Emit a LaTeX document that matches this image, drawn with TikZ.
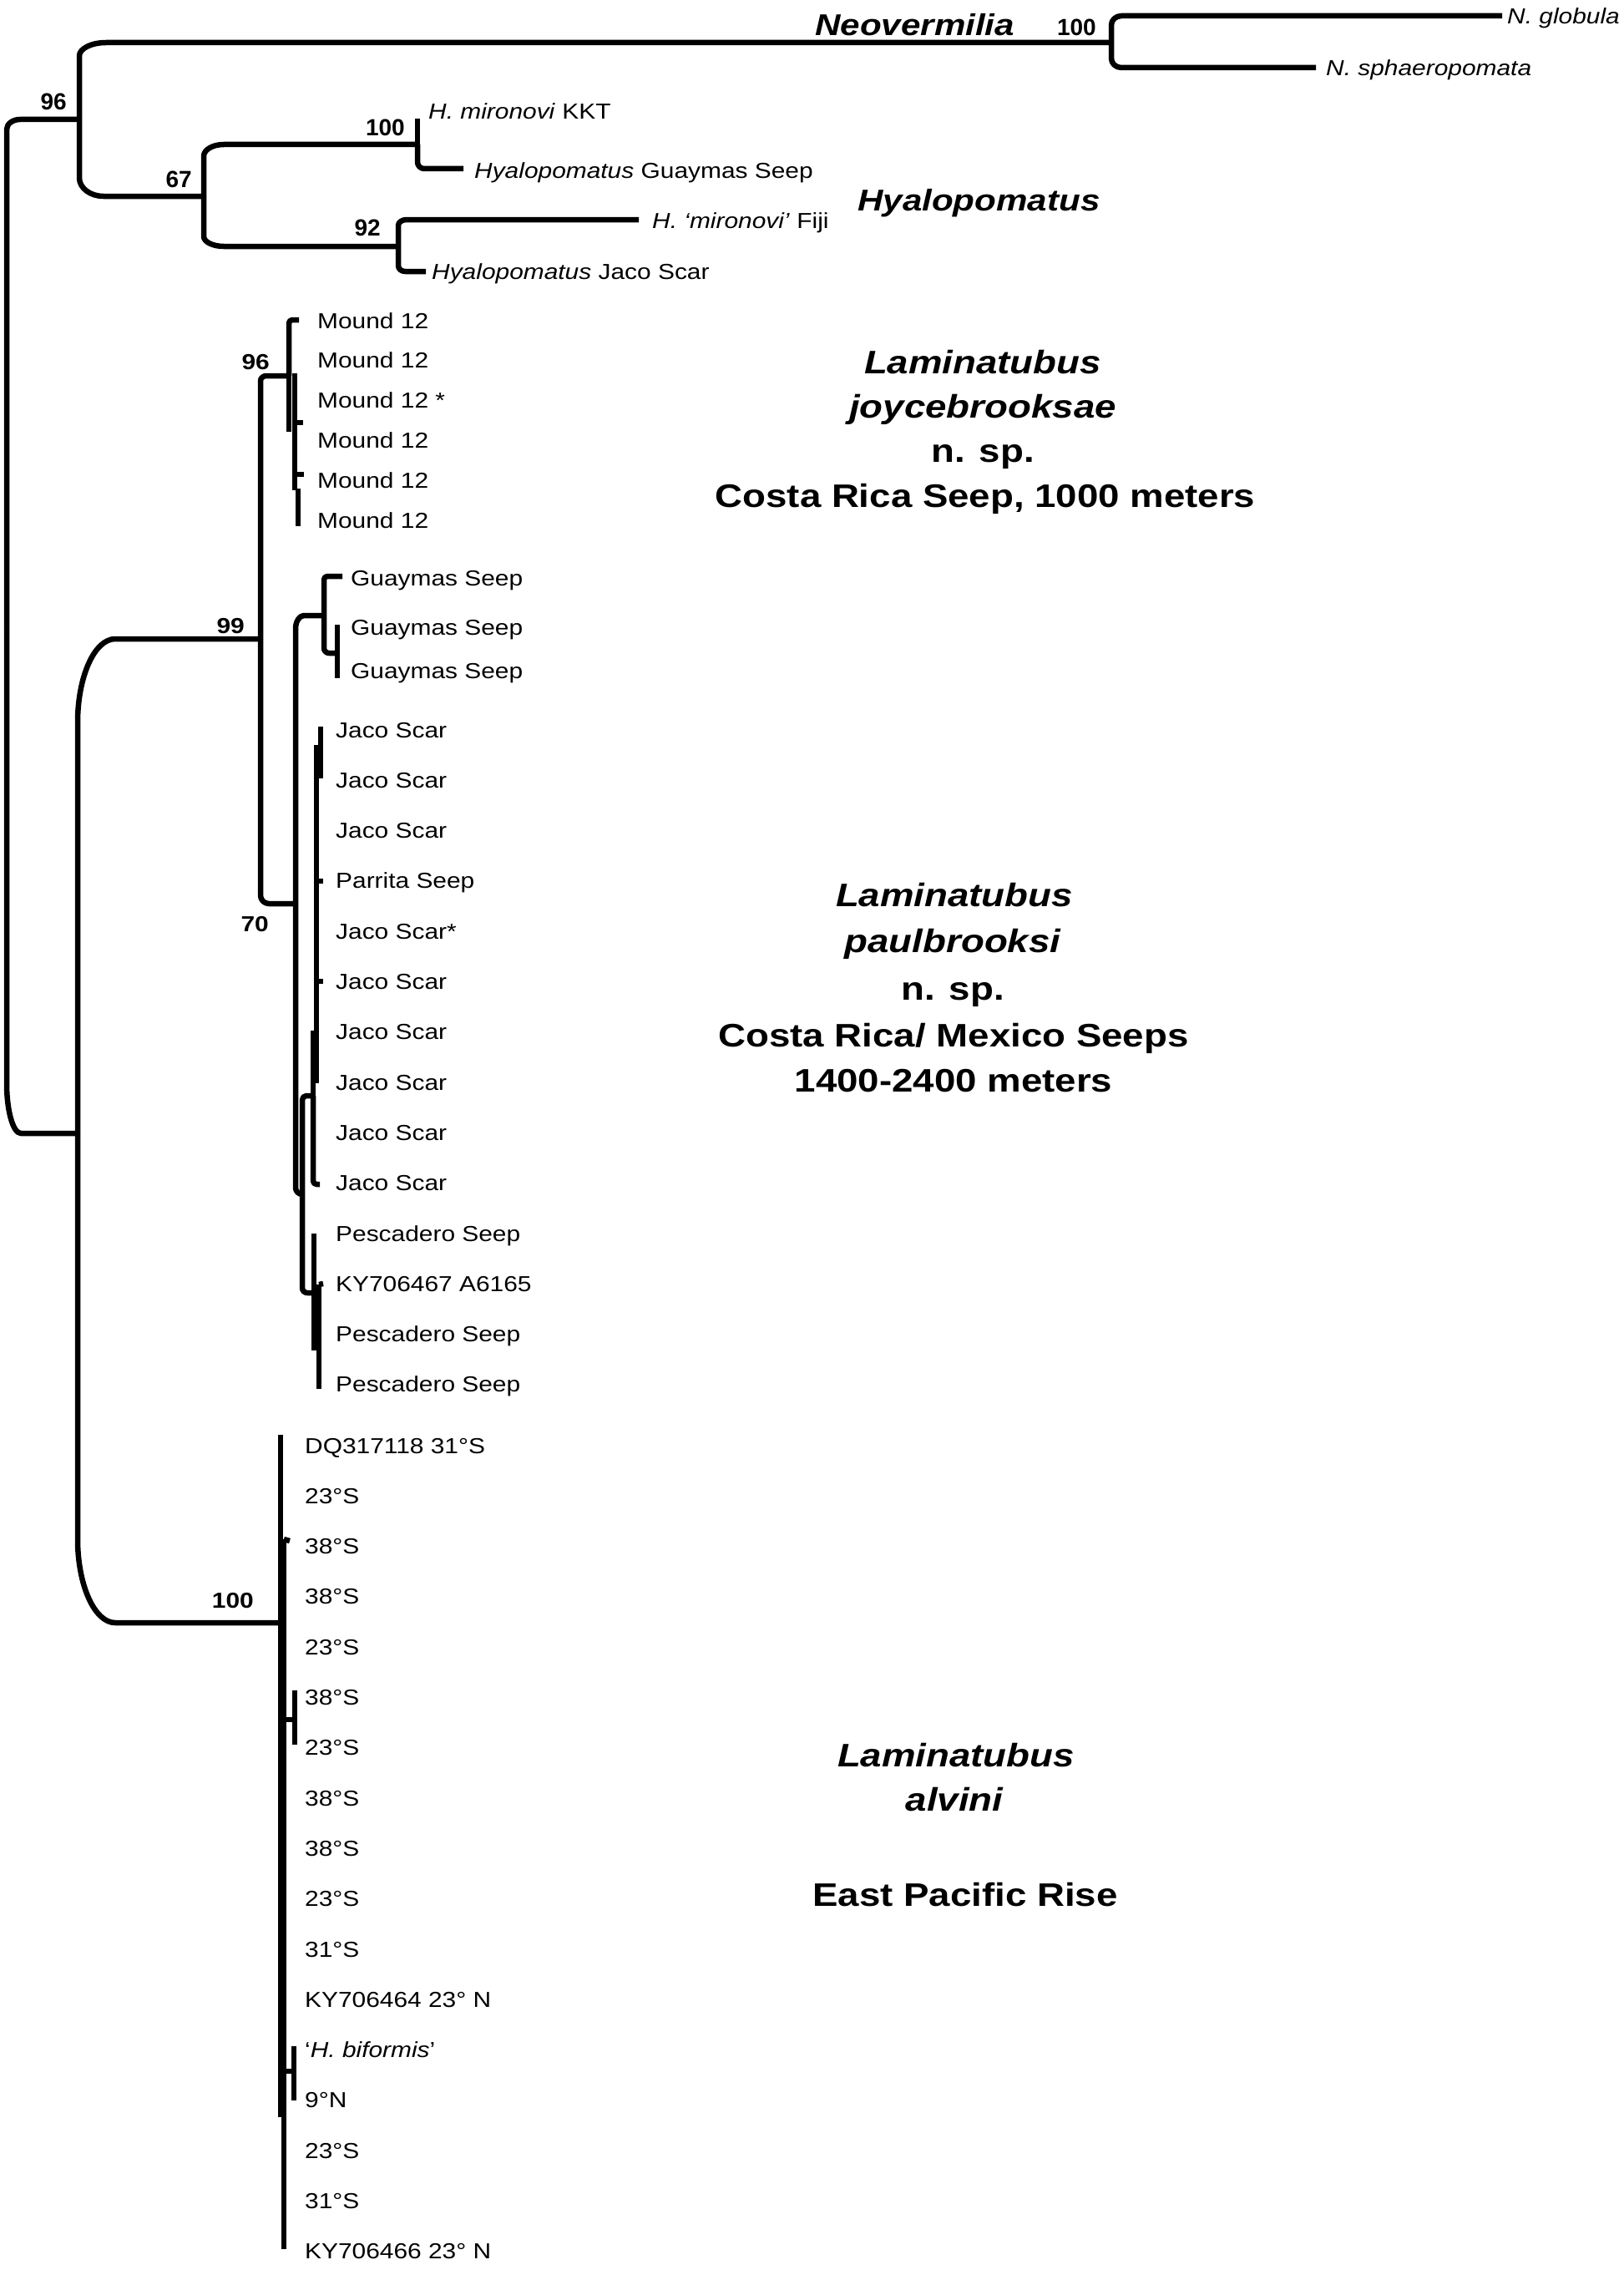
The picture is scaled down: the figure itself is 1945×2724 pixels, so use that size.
\documentclass[tikz,border=0pt]{standalone}
\usepackage{fontspec}
\setmainfont{Liberation Sans}
\newfontfamily\leaffont[FakeStretch=1.15]{Liberation Sans}
\newfontfamily\bigfont[FakeStretch=1.17]{Liberation Sans}
\usetikzlibrary{calc}
\tikzset{
  br/.style={line width=6.5pt, line join=round},
  elb/.style 2 args={to path={
    let \p1=(\tikztostart), \p2=(\tikztotarget), \n1={sign(\y2-\y1)} in
    -- (\x1,{\y2-\n1*#2}) .. controls (\x1,{\y2-\n1*0.45*#2}) and ({\x1+0.45*#1},\y2) .. ({\x1+#1},\y2) -- (\tikztotarget)}},
  leaf/.style={anchor=base west, inner sep=0pt, font=\leaffont\fontsize{26}{30}\selectfont},
  bsU/.style={anchor=base east, inner sep=0pt, font=\fontsize{28}{30}\selectfont\bfseries},
  bsL/.style={anchor=base east, inner sep=0pt, font=\leaffont\fontsize{26}{30}\selectfont\bfseries},
  big/.style={anchor=base, inner sep=0pt, font=\bigfont\fontsize{39}{44}\selectfont\bfseries},
  grp/.style={anchor=base west, inner sep=0pt, font=\bigfont\fontsize{36}{40}\selectfont\bfseries\itshape},
}
\begin{document}
\begin{tikzpicture}[x=1pt,y=-1pt]
\fill[white] (0,0) rectangle (1945,2724);
\useasboundingbox (0,0) rectangle (1945,2724);

% ---------- internal nodes and tips ----------
\coordinate (root) at (8,750);
\coordinate (n96) at (95,143);
\coordinate (nLam) at (93,1357);
\coordinate (nNeo) at (1331,51);
\coordinate (n67) at (244,235);
\coordinate (n100H) at (500,173);
\coordinate (n92) at (477,295);
\coordinate (tNglob) at (1799,19);
\coordinate (tNsph) at (1576,81);
\coordinate (tHmir) at (500,142);
\coordinate (tHGua) at (555,202);
\coordinate (tHFij) at (765,263);
\coordinate (tHJac) at (510,325);

\draw[br] (root) to[elb={16}{12}] (n96);
\draw[br] (root) to[elb={17}{60}] (nLam);
\draw[br] (n96) to[elb={32}{16}] (nNeo);
\draw[br] (n96) to[elb={29}{22}] (n67);
\draw[br] (nNeo) to[elb={12}{11}] (tNglob);
\draw[br] (nNeo) to[elb={12}{11}] (tNsph);
\draw[br] (n67) to[elb={24}{14}] (n100H);
\draw[br] (n67) to[elb={24}{12}] (n92);
\draw[br] (n100H) -- (tHmir);
\draw[br] (n100H) to[elb={8}{8}] (tHGua);
\draw[br] (n92) to[elb={10}{7}] (tHFij);
\draw[br] (n92) to[elb={8}{7}] (tHJac);

% lower part
\coordinate (n99) at (312,765);
\coordinate (nAlv) at (336,1943);
\draw[br] (nLam) to[elb={45}{100}] (n99);
\draw[br] (nLam) to[elb={45}{100}] (nAlv);
\coordinate (n96M) at (346,450);
\coordinate (n70) at (354,1082);
\draw[br] (n99) to[elb={7}{6}] (n96M);
\draw[br] (n99) to[elb={10}{10}] (n70);

% Mound 12
\coordinate (tM1) at (358,383);
\coordinate (mA) at (346,517);
\draw[br] (n96M) to[elb={4}{4}] (tM1);
\draw[br] (n96M) -- (mA);
\coordinate (mB1) at (353,447); \coordinate (mB2) at (353,587);
\draw[br] (mB1) -- (mB2);
\coordinate (mBa) at (353,506); \coordinate (tM4) at (363,506);
\draw[br] (mBa) -- (tM4);
\coordinate (mBb) at (353,568); \coordinate (tM5) at (364,568);
\draw[br] (mBb) -- (tM5);
\coordinate (mC1) at (357,585); \coordinate (mC2) at (357,630);
\draw[br] (mC1) -- (mC2);

% Guaymas
\coordinate (nGua) at (388,737);
\coordinate (nJP) at (362,1430);
\draw[br] (n70) to[elb={10}{16}] (nGua);
\draw[br] (n70) to[elb={8}{8}] (nJP);
\coordinate (tG1) at (410,690);
\coordinate (nG23) at (404,782);
\draw[br] (nGua) to[elb={4}{4}] (tG1);
\draw[br] (nGua) to[elb={6}{6}] (nG23);
\coordinate (tG2) at (404,748); \coordinate (tG3) at (404,812);
\draw[br] (nG23) -- (tG2);
\draw[br] (nG23) -- (tG3);

% Jaco Scar / Pescadero
\coordinate (nJ) at (375,1312);
\coordinate (nP) at (376,1548);
\draw[br] (nJP) to[elb={5}{5}] (nJ);
\draw[br] (nJP) to[elb={6}{6}] (nP);
\coordinate (tJ10) at (383,1418);
\draw[br] (nJ) to[elb={4}{4}] (tJ10);
\coordinate (jA) at (375,1234);
\draw[br] (nJ) -- (jA);
\coordinate (jB1) at (379,892); \coordinate (jB2) at (379,1297);
\draw[br] (jB1) -- (jB2);
\coordinate (jBa) at (379,1055); \coordinate (tPar) at (387,1055);
\draw[br] (jBa) -- (tPar);
\coordinate (jBb) at (379,1175); \coordinate (tJ6) at (387,1175);
\draw[br] (jBb) -- (tJ6);
\coordinate (jC1) at (384,870); \coordinate (jC2) at (384,932);
\draw[br] (jC1) -- (jC2);
\coordinate (pA1) at (376,1477); \coordinate (pA2) at (376,1617);
\draw[br] (pA1) -- (pA2);
\coordinate (pB1) at (382,1538); \coordinate (pB2) at (382,1663);
\draw[br] (pB1) -- (pB2);
\coordinate (tKY) at (387,1537);
\draw[br] (pB1) -- (tKY);

% alvini
\coordinate (aT) at (336,1718); \coordinate (aM) at (336,2535);
\draw[br] (aT) -- (aM);
\coordinate (bT) at (340,1843); \coordinate (bB) at (340,2693);
\draw[br] (bT) -- (bB);
\coordinate (tA2) at (347,1845);
\draw[br] (bT) -- (tA2);
\coordinate (s1) at (342,2059); \coordinate (s1n) at (353,2059);
\coordinate (s1a) at (353,2024); \coordinate (s1b) at (353,2089);
\draw[br] (s1) -- (s1n);
\draw[br] (s1a) -- (s1b);
\coordinate (s2) at (342,2480); \coordinate (s2n) at (352,2480);
\coordinate (s2a) at (352,2450); \coordinate (s2b) at (352,2515);
\draw[br] (s2) -- (s2n);
\draw[br] (s2a) -- (s2b);

% ---------- leaf labels ----------
\node[leaf] (lNglob) at (1805,29) {\textit{N. globula}};
\node[leaf] (lNsph) at (1588,91) {\textit{N. sphaeropomata}};
\node[leaf] (lHmir) at (513,143) {\textit{H. mironovi} KKT};
\node[leaf] (lHGua) at (568,213) {\textit{Hyalopomatus} Guaymas Seep};
\node[leaf] (lHFij) at (781,273) {\textit{H. ‘mironovi’} Fiji};
\node[leaf] (lHJac) at (517,334) {\textit{Hyalopomatus} Jaco Scar};

\foreach \t [count=\k from 0] in {Mound 12, Mound 12, Mound 12 *, Mound 12, Mound 12, Mound 12}
  \node[leaf] (lM\k) at (380,{393+47.8*\k}) {\t};

\node[leaf] (lG0) at (420,701) {Guaymas Seep};
\node[leaf] (lG1) at (420,760) {Guaymas Seep};
\node[leaf] (lG2) at (420,812) {Guaymas Seep};

\foreach \t [count=\k from 0] in {Jaco Scar, Jaco Scar, Jaco Scar, Parrita Seep, Jaco Scar*, Jaco Scar, Jaco Scar, Jaco Scar, Jaco Scar, Jaco Scar, Pescadero Seep, KY706467 A6165, Pescadero Seep, Pescadero Seep}
  \node[leaf] (lP\k) at (402,{883+60.3*\k}) {\t};

\foreach \t [count=\k from 0] in {DQ317118 31°S, 23°S, 38°S, 38°S, 23°S, 38°S, 23°S, 38°S, 38°S, 23°S, 31°S, KY706464 23° N, {‘\textit{H. biformis}’}, 9°N, 23°S, 31°S, KY706466 23° N}
  \node[leaf] (lA\k) at (365,{1740+60.3*\k}) {\t};

% ---------- support values ----------
\node[bsU] (b96) at (80,132) {96};
\node[bsU] (b67) at (230,225) {67};
\node[bsU] (b100H) at (485,163) {100};
\node[bsU] (b92) at (456,282) {92};
\node[bsU] (b100N) at (1313,43) {100};
\node[bsL] (b96M) at (323,442) {96};
\node[bsL] (b99) at (293,758) {99};
\node[bsL] (b70) at (322,1115) {70};
\node[bsL] (b100A) at (304,1925) {100};

% ---------- group labels ----------
\node[grp] (gNeo) at (976,43) {Neovermilia};
\node[grp] (gHya) at (1027,252) {Hyalopomatus};

\node[big] (j1) at (1177,447) {\itshape Laminatubus};
\node[big] (j2) at (1177,500) {\itshape joycebrooksae};
\node[big] (j3) at (1177,553) {n. sp.};
\node[big] (j4) at (1180,607) {Costa Rica Seep, 1000 meters};

\node[big] (p1) at (1143,1085) {\itshape Laminatubus};
\node[big] (p2) at (1141,1140) {\itshape paulbrooksi};
\node[big] (p3) at (1141,1197) {n. sp.};
\node[big] (p4) at (1142,1253) {Costa Rica/ Mexico Seeps};
\node[big] (p5) at (1142,1307) {1400-2400 meters};

\node[big] (a1) at (1145,2115) {\itshape Laminatubus};
\node[big] (a2) at (1143,2168) {\itshape alvini};
\node[big] (a3) at (1156,2282) {East Pacific Rise};
\end{tikzpicture}
\end{document}
